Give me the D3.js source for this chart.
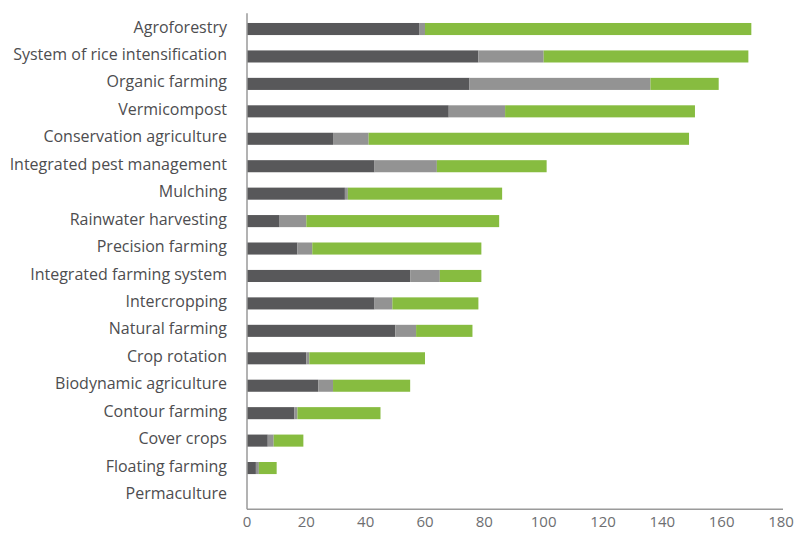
<!DOCTYPE html>
<html lang="en">
<head>
    <meta charset="UTF-8">
    <title>Practices</title>
    <style>
        body { margin: 0; background: #fff; }
    </style>
</head>
<body>
    <div id="chart"></div>
    <script src="https://d3js.org/d3.v7.min.js"></script>
    <script>

    // data
    const practices = ["Agroforestry", "System of rice intensification", "Organic farming", "Vermicompost",
        "Conservation agriculture", "Integrated pest management", "Mulching", "Rainwater harvesting",
        "Precision farming", "Integrated farming system", "Intercropping", "Natural farming",
        "Crop rotation", "Biodynamic agriculture", "Contour farming", "Cover crops",
        "Floating farming", "Permaculture"];
    const darkVals  = [58, 78, 75, 68, 29, 43, 33, 11, 17, 55, 43, 50, 20, 24, 16, 7, 3, 0];
    const greyVals  = [2, 22, 61, 19, 12, 21, 1, 9, 5, 10, 6, 7, 1, 5, 1, 2, 1, 0];
    const greenVals = [110, 69, 23, 64, 108, 37, 52, 65, 57, 14, 29, 19, 39, 26, 28, 10, 6, 0];
    const xTicks = [0, 20, 40, 60, 80, 100, 120, 140, 160, 180];

    const keys = ["dark", "grey", "green"];
    const colors = {dark: "#58585a", grey: "#939393", green: "#87bc40"};

    const data = practices.map((p, i) => ({
        name: p, dark: darkVals[i], grey: greyVals[i], green: greenVals[i]
    }));

    const W = 795, H = 534;
    const plotL = 247, plotR = 781, plotT = 15.3, plotB = 509.2;

    const svg = d3.select("#chart").append("svg")
        .attr("width", W).attr("height", H);

    // the source image is cropped a little on the left
    svg.append("clipPath").attr("id", "crop")
        .append("rect").attr("x", 10).attr("y", 0).attr("width", W).attr("height", H);

    const x = d3.scaleLinear().domain([0, 180]).range([plotL, plotR]);
    const y = d3.scaleBand().domain(practices).range([plotT, plotB])
        .paddingInner(0.56).paddingOuter(0.28);

    const stack = d3.stack().keys(keys)(data);

    svg.append("g")
        .selectAll("g")
        .data(stack)
        .join("g")
        .attr("fill", d => colors[d.key])
        .selectAll("rect")
        .data(d => d)
        .join("rect")
        .attr("x", d => x(d[0]))
        .attr("y", d => y(d.data.name))
        .attr("width", d => x(d[1]) - x(d[0]))
        .attr("height", y.bandwidth());

    // frame lines: left and bottom
    svg.append("line")
        .attr("x1", plotL).attr("x2", plotL)
        .attr("y1", plotT - 2).attr("y2", plotB)
        .attr("stroke", "#9a9a9a").attr("stroke-width", 1.5);
    svg.append("line")
        .attr("x1", plotL).attr("x2", 783)
        .attr("y1", plotB).attr("y2", plotB)
        .attr("stroke", "#9a9a9a").attr("stroke-width", 1.5);

    // category labels
    svg.append("g")
        .attr("clip-path", "url(#crop)")
        .selectAll("text")
        .data(practices)
        .join("text")
        .attr("x", 227)
        .attr("y", d => y(d) + y.bandwidth() / 2 - 2)
        .attr("dy", "0.35em")
        .attr("text-anchor", "end")
        .attr("font-family", "Open Sans")
        .attr("font-size", 16)
        .attr("fill", "#4d4d4f")
        .text(d => d);

    // x axis labels
    svg.append("g")
        .selectAll("text")
        .data(xTicks)
        .join("text")
        .attr("x", d => x(d))
        .attr("y", 527)
        .attr("text-anchor", "middle")
        .attr("font-family", "Open Sans")
        .attr("font-size", 15)
        .attr("fill", "#6d6e71")
        .text(d => d);

    </script>
</body>
</html>
